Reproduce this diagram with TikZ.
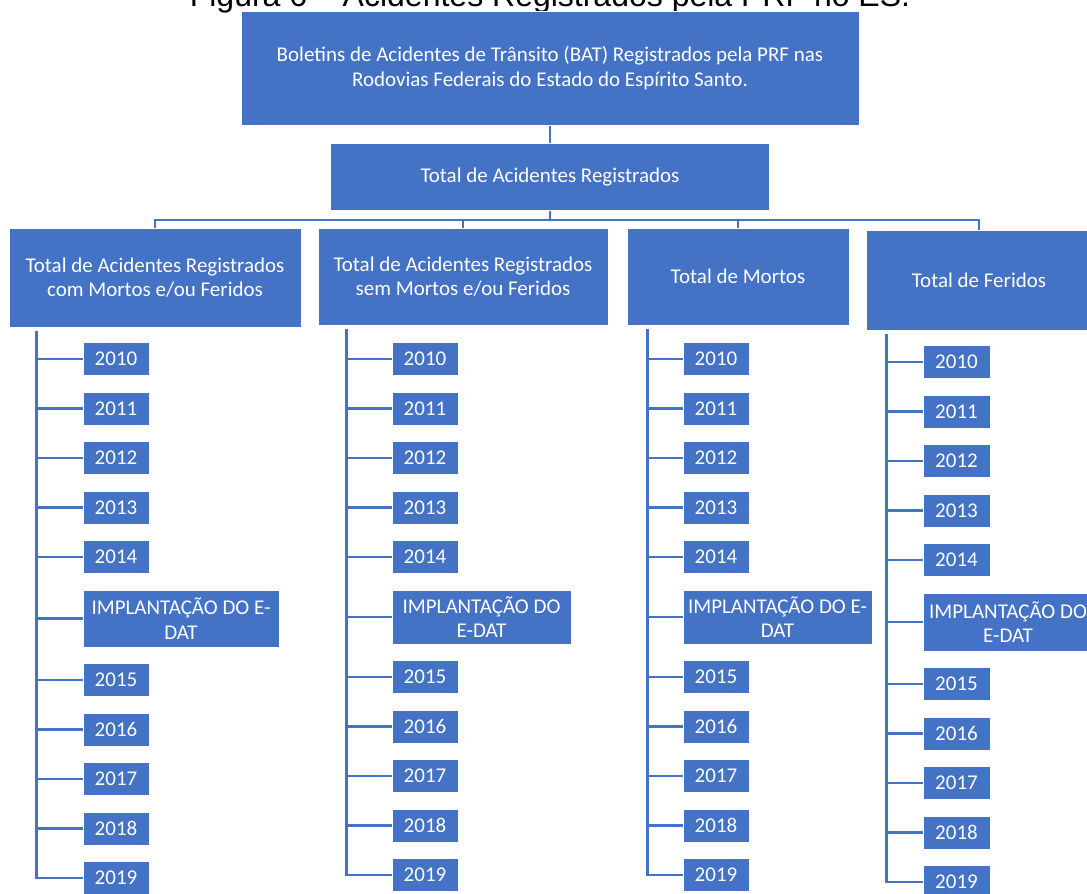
\documentclass[tikz,border=0pt]{standalone}
\usepackage{fontspec}
\setmainfont{Carlito}
\newfontfamily\titlefont{Liberation Sans}
\usetikzlibrary{positioning}
\definecolor{boxblue}{HTML}{4472C4}

\tikzset{
  box/.style={draw=white, line width=1pt, fill=boxblue, text=white, align=center,
    inner sep=0pt, font=\fontsize{21}{24.5}\selectfont},
  yr/.style={box, minimum width=66pt, minimum height=33pt},
  impl/.style={box, anchor=north west},
  link/.style={draw=boxblue, line width=2.5pt},
}

\begin{document}
\begin{tikzpicture}[x=1pt, y=-1pt, node distance=15.5pt]
    \useasboundingbox (0,0) rectangle (1087,894);
    \clip (0,0) rectangle (1087,894);
    \node [font=\titlefont\fontsize{32}{36}\selectfont, anchor=base](caption) at (550,6){Figura 6 – Acidentes Registrados pela PRF no ES.};

    \node [box, minimum width=618pt, minimum height=114pt](bat) at (550,68){Boletins de Acidentes de Trânsito (BAT) Registrados pela PRF nas\\Rodovias Federais do Estado do Espírito Santo.};
    \node [box, minimum width=439pt, minimum height=67pt](total) at (550,177){Total de Acidentes Registrados};
    \draw [link] (bat) -- (total);

    \node [box, minimum width=292pt, minimum height=99pt](com) at (155,277.5){Total de Acidentes Registrados\\com Mortos e/ou Feridos};
    \node [box, minimum width=290pt, minimum height=97pt](sem) at (463,276.5){Total de Acidentes Registrados\\sem Mortos e/ou Feridos};
    \node [box, minimum width=222pt, minimum height=97pt](mortos) at (738,276.5){Total de Mortos};
    \node [box, minimum width=226pt, minimum height=100pt](feridos) at (979,280){Total de Feridos};
    \coordinate (bus) at (550,220);
    \foreach \c in {com,sem,mortos,feridos}
        \draw [link] (total) -- (bus) -| (\c);

    % com mortos e/ou feridos
    \node [yr](com_2010) at (116,359){2010};
    \foreach \y [remember=\y as \p (initially 2010)] in {2011,...,2014}
        \node [yr, below=of com_\p](com_\y){\y};
    \node [below=of com_2014.south west, impl, minimum width=196pt, minimum height=57pt](com_impl){IMPLANTAÇÃO DO E-\\DAT};
    \node [yr, below=of com_impl.south west, anchor=north west](com_2015){2015};
    \foreach \y [remember=\y as \p (initially 2015)] in {2016,...,2019}
        \node [yr, below=of com_\p](com_\y){\y};
    \coordinate (com_t) at ([xshift=28pt, yshift=-3pt]com.south west);
    \draw [link] (com_t) |- (com_2019);
    \foreach \y in {2010,2011,2012,2013,2014,impl,2015,2016,2017,2018}
        \draw [link] (com_\y) -- (com_\y -| com_t);

    % sem mortos e/ou feridos
    \node [yr](sem_2010) at (425,359){2010};
    \foreach \y [remember=\y as \p (initially 2010)] in {2011,...,2014}
        \node [yr, below=of sem_\p](sem_\y){\y};
    \node [below=of sem_2014.south west, impl, minimum width=179pt, minimum height=54pt](sem_impl){IMPLANTAÇÃO DO\\E-DAT};
    \node [yr, below=of sem_impl.south west, anchor=north west](sem_2015){2015};
    \foreach \y [remember=\y as \p (initially 2015)] in {2016,...,2019}
        \node [yr, below=of sem_\p](sem_\y){\y};
    \coordinate (sem_t) at ([xshift=29pt, yshift=-3pt]sem.south west);
    \draw [link] (sem_t) |- (sem_2019);
    \foreach \y in {2010,2011,2012,2013,2014,impl,2015,2016,2017,2018}
        \draw [link] (sem_\y) -- (sem_\y -| sem_t);

    % mortos
    \node [yr](mortos_2010) at (716,359){2010};
    \foreach \y [remember=\y as \p (initially 2010)] in {2011,...,2014}
        \node [yr, below=of mortos_\p](mortos_\y){\y};
    \node [below=of mortos_2014.south west, impl, minimum width=189pt, minimum height=54pt](mortos_impl){IMPLANTAÇÃO DO E-\\DAT};
    \node [yr, below=of mortos_impl.south west, anchor=north west](mortos_2015){2015};
    \foreach \y [remember=\y as \p (initially 2015)] in {2016,...,2019}
        \node [yr, below=of mortos_\p](mortos_\y){\y};
    \coordinate (mortos_t) at ([xshift=21pt, yshift=-3pt]mortos.south west);
    \draw [link] (mortos_t) |- (mortos_2019);
    \foreach \y in {2010,2011,2012,2013,2014,impl,2015,2016,2017,2018}
        \draw [link] (mortos_\y) -- (mortos_\y -| mortos_t);

    % feridos
    \node [yr, minimum width=67pt](feridos_2010) at (956.5,362){2010};
    \foreach \y [remember=\y as \p (initially 2010)] in {2011,...,2014}
        \node [yr, minimum width=67pt, below=of feridos_\p](feridos_\y){\y};
    \node [below=of feridos_2014.south west, impl, minimum width=170pt, minimum height=58pt](feridos_impl){IMPLANTAÇÃO DO\\E-DAT};
    \node [yr, minimum width=67pt, below=of feridos_impl.south west, anchor=north west](feridos_2015){2015};
    \foreach \y [remember=\y as \p (initially 2015)] in {2016,...,2019}
        \node [yr, minimum width=67pt, below=of feridos_\p](feridos_\y){\y};
    \coordinate (feridos_t) at ([xshift=21pt, yshift=-3pt]feridos.south west);
    \draw [link] (feridos_t) |- (feridos_2019);
    \foreach \y in {2010,2011,2012,2013,2014,impl,2015,2016,2017,2018}
        \draw [link] (feridos_\y) -- (feridos_\y -| feridos_t);
\end{tikzpicture}
\end{document}
